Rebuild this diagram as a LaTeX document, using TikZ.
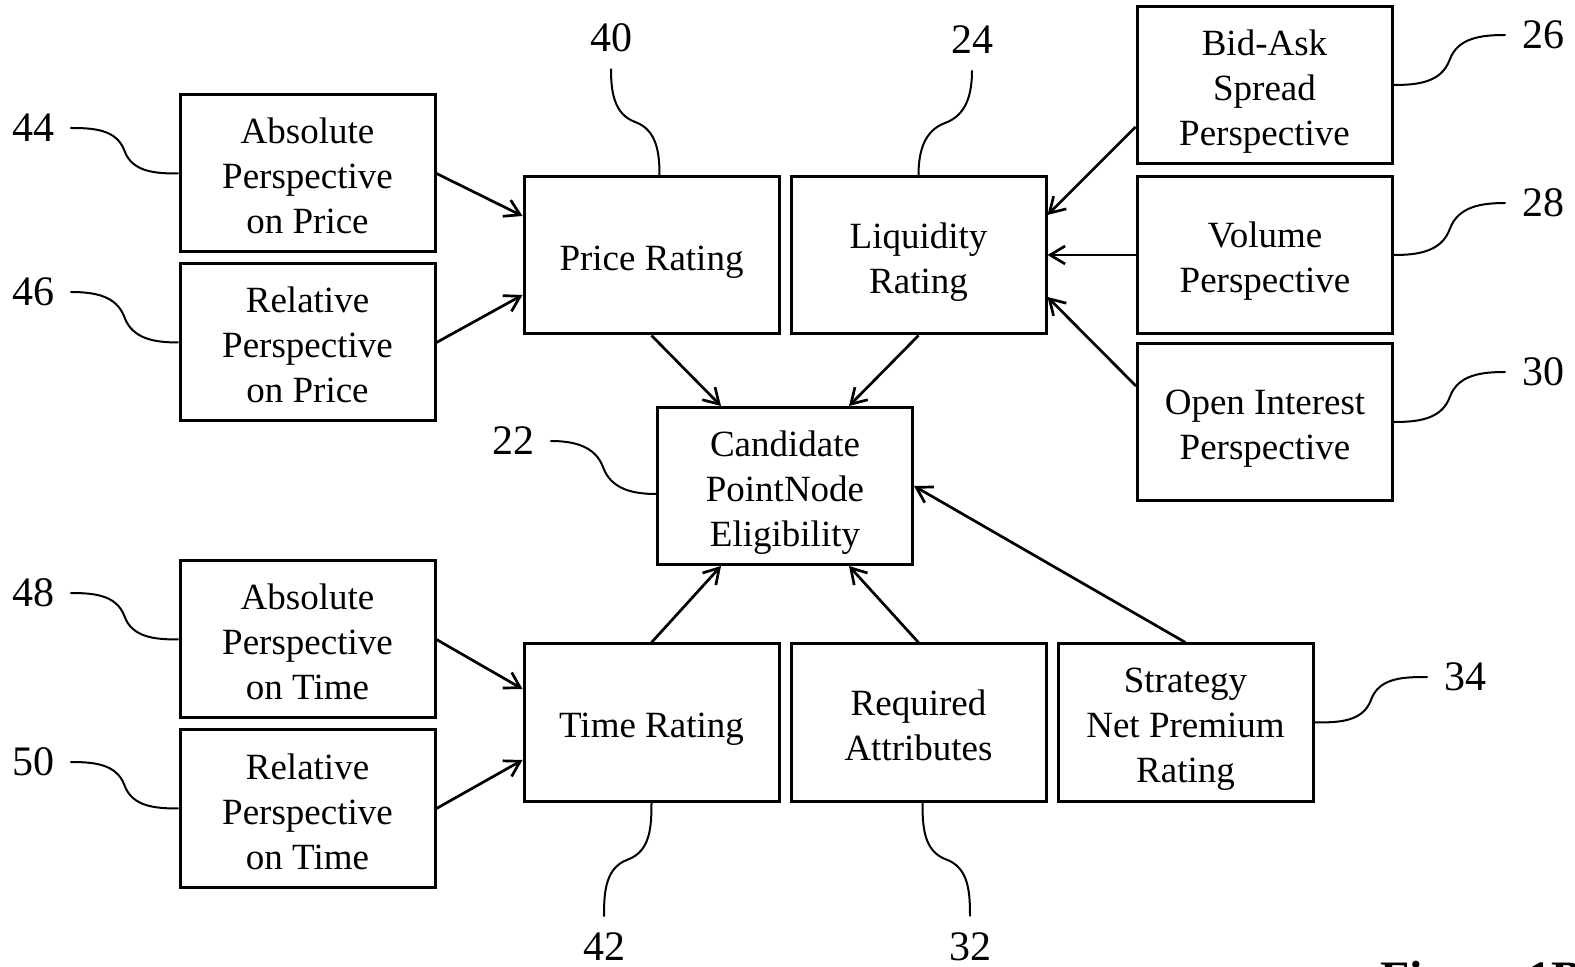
\documentclass[tikz,border=0pt]{standalone}
\usepackage{fontspec}
\setmainfont{Liberation Serif}
\usetikzlibrary{arrows.meta,calc}
% strut that sets the height of a box's first text line
\newcommand{\firstline}{\rule{0pt}{20.5pt}}
\begin{document}
\begin{tikzpicture}[x=0.5pt,y=0.5pt,
  box/.style={draw, line width=1.5pt, minimum width=127.5pt, minimum height=78.5pt,
    inner sep=2pt, align=center, font=\fontsize{18.5}{22.5}\selectfont,
    execute at end node={\rule[-5pt]{0pt}{5pt}}},
  ref/.style={inner sep=8pt, font=\fontsize{21}{24}\selectfont},
  feed/.style={line width=1.35pt, -{Straight Barb[length=7.5pt,width=9pt]}},
  lead/.style={line width=1pt}]
\useasboundingbox (0,0) rectangle (1575,-967);
\fill[white] (0,0) rectangle (1575,-967);
\clip (0,0) rectangle (1575,-967);

% rating inputs
\node[box] (absP) at (307.5,-173.5) {\firstline Absolute\\Perspective\\on Price};
\node[box] (relP) at (307.5,-342.5) {\firstline Relative\\Perspective\\on Price};
\node[box] (absT) at (307.5,-639.5) {\firstline Absolute\\Perspective\\on Time};
\node[box] (relT) at (307.5,-808.5) {\firstline Relative\\Perspective\\on Time};
\node[box] (bid)  at (1264.5,-85)  {\firstline Bid-Ask\\Spread\\Perspective};
\node[box] (vol)  at (1265,-255)   {\firstline Volume\\Perspective};
\node[box] (oi)   at (1265,-422)   {\firstline Open Interest\\Perspective};

% ratings
\node[box] (price) at (651.5,-255.5) {\firstline Price Rating};
\node[box] (liq)   at (918.5,-255.5) {\firstline Liquidity\\Rating};
\node[box] (time)  at (651.5,-722.5) {\firstline Time Rating};
\node[box] (req)   at (918.5,-722.5) {\firstline Required\\Attributes};
\node[box] (strat) at (1185.5,-722.5) {\firstline Strategy\\Net Premium\\Rating};

% result
\node[box] (cand) at (785,-486) {\firstline Candidate\\PointNode\\Eligibility};

% reference numerals
\node[ref] (l44) at (33,-128) {44};
\node[ref] (l46) at (33,-292) {46};
\node[ref] (l48) at (33,-593) {48};
\node[ref] (l50) at (33,-762) {50};
\node[ref] (l22) at (513,-441) {22};
\node[ref] (l40) at (611,-38) {40};
\node[ref] (l24) at (972,-40) {24};
\node[ref] (l26) at (1543,-35) {26};
\node[ref] (l28) at (1543,-203) {28};
\node[ref] (l30) at (1543,-372) {30};
\node[ref] (l34) at (1465,-677) {34};
\node[ref] (l42) at (604,-947) {42};
\node[ref] (l32) at (970,-947) {32};

% arrows into the ratings
\draw[feed] (absP.east) -- ($(price.west)+(0,39.5)$);
\draw[feed] (relP.east) -- ($(price.west)+(0,-39.5)$);
\draw[feed] (absT.east) -- ($(time.west)+(0,33.5)$);
\draw[feed] (relT.east) -- ($(time.west)+(0,-37.5)$);
\draw[feed] ($(bid.west)+(0,-42)$) -- ($(liq.east)+(0,40.5)$);
\draw[feed] (vol.west) -- (vol.west -| liq.east);
\draw[feed] ($(oi.west)+(0,36)$) -- ($(liq.east)+(0,-41.5)$);

% arrows into the eligibility box
\draw[feed] (price.south) -- ($(cand.north)+(-64,0)$);
\draw[feed] (liq.south) -- ($(cand.north)+(64,0)$);
\draw[feed] (time.north) -- ($(cand.south)+(-64,0)$);
\draw[feed] (req.north) -- ($(cand.south)+(64,0)$);
\draw[feed] (strat.north) -- (cand.east);

% leader lines, numeral on the left
\foreach \l/\b in {l44/absP, l46/relP, l48/absT, l50/relT}
  \draw[lead] (\l.east) to[out=0,in=110] ($(\l.east)!0.5!(\b.west)$)
              to[out=-70,in=180] (\b.west);
\draw[lead] (l22.east) to[out=0,in=110] ($(l22.east)!0.5!($(cand.west)+(0,-8)$)$)
            to[out=-70,in=180] ($(cand.west)+(0,-8)$);

% leader lines, numeral on the right
\foreach \l/\b in {l26/bid, l28/vol, l30/oi, l34/strat}
  \draw[lead] (\l.west) to[out=180,in=70] ($(\l.west)!0.5!(\b.east)$)
              to[out=250,in=0] (\b.east);

% leader lines, numeral above
\draw[lead] (l40.south) to[out=-90,in=160] ($(l40.south)!0.5!($(price.north)+(8,0)$)$)
            to[out=-20,in=90] ($(price.north)+(8,0)$);
\draw[lead] (l24.south) to[out=-90,in=20] ($(l24.south)!0.5!(liq.north)$)
            to[out=200,in=90] (liq.north);

% leader lines, numeral below
\draw[lead] (time.south) to[out=-90,in=20] ($(time.south)!0.5!(l42.north)$)
            to[out=200,in=90] (l42.north);
\draw[lead] ($(req.south)+(4,0)$) to[out=-90,in=160] ($($(req.south)+(4,0)$)!0.5!(l32.north)$)
            to[out=-20,in=90] (l32.north);

% figure caption
\node[anchor=base west, inner sep=0pt, font=\bfseries\fontsize{24}{28}\selectfont]
  (fig) at (1380,-994) {Figure 1B};
\end{tikzpicture}
\end{document}
